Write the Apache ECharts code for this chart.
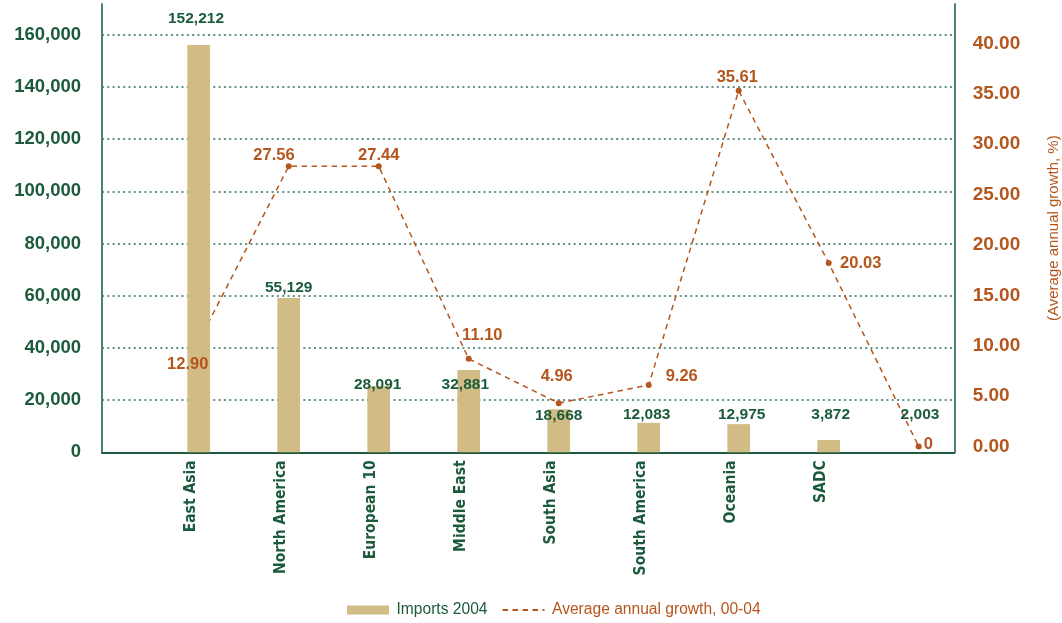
<!DOCTYPE html>
<html><head><meta charset="utf-8">
<script src="https://cdn.jsdelivr.net/npm/echarts/dist/echarts.min.js"></script>
<style>html,body{margin:0;padding:0;background:#fff}#c{width:1062px;height:623px}</style>
</head><body><div id="c"></div>
<script>
// ---- data ----
const categories = ['East Asia','North America','European 10','Middle East','South Asia','South America','Oceania','SADC',''];
const imports2004 = [156100, 59100, 25400, 31500, 16500, 11300, 10800, 4700, 0];
const importLabels = ['152,212','55,129','28,091','32,881','18,668','12,083','12,975','3,872','2,003'];
const growth = [10.4, 27.8, 27.8, 8.7, 4.3, 6.1, 35.3, 18.2, 0];
const growthLabels = ['12.90','27.56','27.44','11.10','4.96','9.26','35.61','20.03','0'];

// ---- layout (label nudges in px) ----
const barLabelNudge = [[-2.7,-26.7],[0,-10.3],[-1,-1],[-3.4,15],[0,6],[-2,-7.7],[3,-9],[2,-25],[1.3,-37.3]];
const lineLabelNudge = [[-11,23],[-14.7,-10.7],[0,-11],[13.6,-23],[-2,-27],[33,-9],[-1.4,-13.4],[32,0.6],[9.6,-2.5]];

const GREEN='#1b5b3c', ORANGE='#b4561d', TAN='#d1bc85', GRIDC='#5f9484', AXIS='#4e8070';
const NUM='"Liberation Sans", Arial, sans-serif';
const NARROW='"DejaVu Sans Condensed", "Liberation Sans Narrow", sans-serif';
const GROWTH='Average annual growth, 00-04';

const chart = echarts.init(document.getElementById('c'), null, {renderer:'canvas'});
chart.setOption({
  animation:false,
  backgroundColor:'#fff',
  grid:[
    {left:102,right:107.7,top:4,bottom:170.7,outerBoundsMode:'none',containLabel:false},
    {left:153.7,right:98.3,top:4,bottom:170.7,outerBoundsMode:'none',containLabel:false},
    {left:153.7,right:98.3,top:43.3,bottom:176.5,outerBoundsMode:'none',containLabel:false}
  ],
  xAxis:[
    {gridIndex:0,type:'category',data:categories,axisLine:{lineStyle:{color:'#1e5b3e',width:2}},axisTick:{show:false},axisLabel:{show:false},splitLine:{show:false}},
    {gridIndex:1,type:'category',data:categories,axisLine:{show:false},axisTick:{show:false},splitLine:{show:false},
      axisLabel:{interval:0,rotate:90,margin:8,verticalAlign:'bottom',fontFamily:NARROW,fontWeight:'bold',fontSize:15.5,color:GREEN}},
    {gridIndex:2,type:'category',data:categories,show:false}
  ],
  yAxis:[
    {gridIndex:0,type:'value',min:0,max:171800,interval:20000,
      axisLine:{show:true,lineStyle:{color:AXIS,width:2}},axisTick:{show:false},
      axisLabel:{margin:21,fontFamily:NUM,fontWeight:'bold',fontSize:18.5,color:GREEN,
        formatter:v=> (v%20000===0 ? v.toLocaleString('en-US') : '')},
      splitLine:{show:true,showMinLine:false,showMaxLine:false,lineStyle:{color:GRIDC,width:2,type:[2,3.3]}}},
    {gridIndex:0,type:'value',position:'right',axisLine:{show:true,lineStyle:{color:AXIS,width:2}},axisTick:{show:false},
      axisLabel:{show:false},splitLine:{show:false},
      name:'(Average annual growth, %)',nameLocation:'middle',nameRotate:90,nameGap:92,
      nameTextStyle:{color:ORANGE,fontSize:15,fontFamily:NUM}},
    {gridIndex:1,type:'value',min:0,max:171800,show:false},
    {gridIndex:2,type:'value',position:'right',min:0,max:40,interval:5,
      axisLine:{show:false},axisTick:{show:false},splitLine:{show:false},
      axisLabel:{margin:9,fontFamily:NUM,fontWeight:'bold',fontSize:19,color:ORANGE,formatter:v=>v.toFixed(2)}}
  ],
  legend:{left:347,top:602,padding:0,itemWidth:42,itemHeight:9,itemGap:14,
    data:[
      {name:'Imports 2004',icon:'rect',textStyle:{color:GREEN}},
      {name:GROWTH,itemStyle:{opacity:0},textStyle:{color:ORANGE}}
    ],
    textStyle:{fontFamily:NUM,fontSize:15.6,padding:[0,0,0,2.5]}},
  series:[
    // growth line (drawn beneath the bars)
    {name:GROWTH,type:'line',xAxisIndex:2,yAxisIndex:3,z:1,
      data:growth,symbol:'circle',symbolSize:6,showSymbol:true,
      itemStyle:{color:ORANGE},lineStyle:{color:ORANGE,width:1.5,type:[5.5,4.5]},
      label:{show:false}},
    {name:'Imports 2004',type:'bar',xAxisIndex:1,yAxisIndex:2,z:2,barWidth:22.7,
      data:imports2004.map((v,i)=>({value:v,label:{offset:barLabelNudge[i]}})),
      itemStyle:{color:TAN},
      label:{show:true,position:['50%',0],align:'center',verticalAlign:'middle',
        formatter:p=>importLabels[p.dataIndex],color:GREEN,fontFamily:NUM,fontWeight:'bold',fontSize:15.5}},
    // value labels of the growth line (kept above the bars)
    {name:GROWTH,type:'line',xAxisIndex:2,yAxisIndex:3,z:3,
      data:growth.map((v,i)=>({value:v,label:{offset:lineLabelNudge[i]}})),
      symbol:'circle',symbolSize:1,showSymbol:true,
      itemStyle:{color:'rgba(0,0,0,0)'},lineStyle:{width:0,opacity:0},
      label:{show:true,position:'inside',formatter:p=>growthLabels[p.dataIndex],color:ORANGE,fontFamily:NUM,fontWeight:'bold',fontSize:16.5}}
  ]
});
</script></body></html>
